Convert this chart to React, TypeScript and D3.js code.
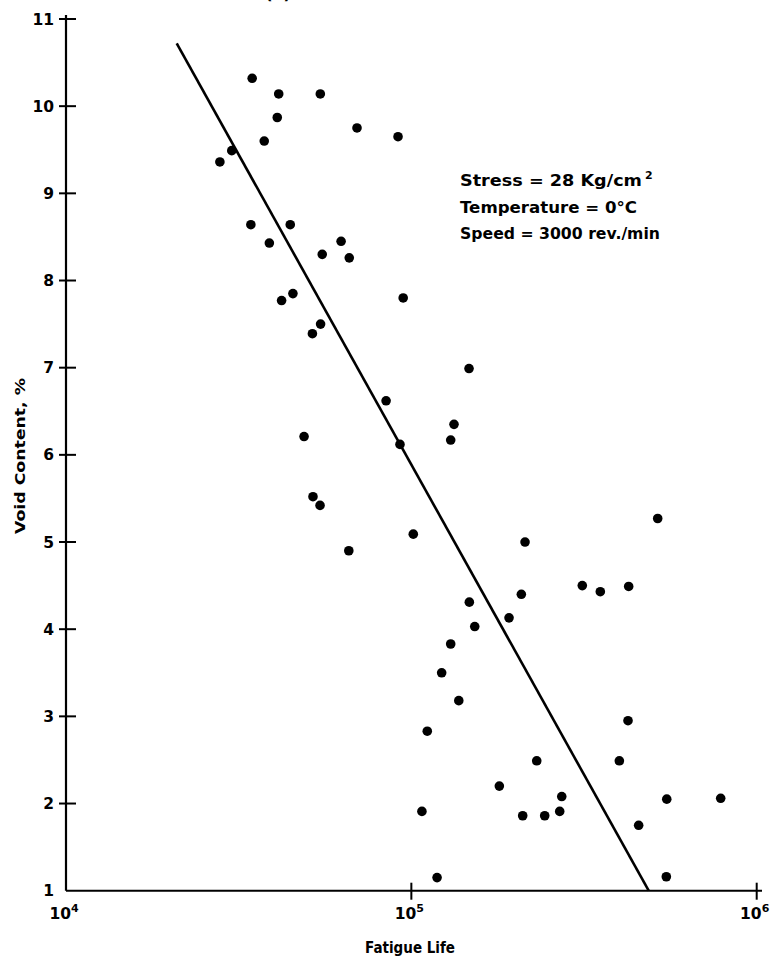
import React from "react";
import * as d3 from "d3";

// Fatigue life (cycles) and void content (%) for each specimen
const fatigueLife = [
  34600, 41300, 54500, 40900, 69600, 91500, 37500, 30200, 27900, 34300,
  44600, 38800, 62600, 55200, 66100, 42100, 45400, 94700, 54600, 51700,
  146900, 84500, 132900, 130000, 92700, 48900, 51900, 54400, 65900, 101300,
  213400, 516800, 312600, 352500, 425900, 208200, 147200, 191800, 152600, 130000,
  122400, 137200, 424000, 111200, 230700, 400200, 179800, 272600, 549000, 786600,
  107300, 210100, 243300, 268900, 455200, 118700, 547400,
];
const voidContent = [
  10.32, 10.14, 10.14, 9.87, 9.75, 9.65, 9.6, 9.49, 9.36, 8.64,
  8.64, 8.43, 8.45, 8.3, 8.26, 7.77, 7.85, 7.8, 7.5, 7.39,
  6.99, 6.62, 6.35, 6.17, 6.12, 6.21, 5.52, 5.42, 4.9, 5.09,
  5.0, 5.27, 4.5, 4.43, 4.49, 4.4, 4.31, 4.13, 4.03, 3.83,
  3.5, 3.18, 2.95, 2.83, 2.49, 2.49, 2.2, 2.08, 2.05, 2.06,
  1.91, 1.86, 1.86, 1.91, 1.75, 1.15, 1.16,
];

// Fitted regression line end points
const fitLife = [20920, 486700];
const fitVoid = [10.72, 1.0];

const yTicks = [1, 2, 3, 4, 5, 6, 7, 8, 9, 10, 11];
const xTickBases = ["10", "10", "10"];
const xTickExps = ["4", "5", "6"];
const xTickValues = [1e4, 1e5, 1e6];

const notes = ["Stress = 28  Kg/cm", "Temperature = 0°C", "Speed = 3000 rev./min"];

const FONT = "'DejaVu Sans', sans-serif";

export default function App() {
  const x = d3.scaleLog().domain([1e4, 1e6]).range([66, 756.7]);
  const y = d3.scaleLinear().domain([1, 11]).range([890.7, 19]);

  const fitPath = d3
    .line<number>()
    .x((_, i) => x(fitLife[i]))
    .y((_, i) => y(fitVoid[i]))(fitLife) as string;

  const x0 = x(1e4);
  const y0 = y(1);

  return (
    <svg
      width={773}
      height={967}
      style={{ position: "absolute", left: 0, top: 0, background: "#fff" }}
      fontFamily={FONT}
    >
      {/* panel caption, mostly above the frame */}
      <text x={278} y={-1} fontSize={16} fontWeight="bold" textAnchor="middle">
        (a)
      </text>

      {/* axes */}
      <line x1={x0} x2={x0} y1={15} y2={y0} stroke="#000" strokeWidth={2.2} />
      <line x1={x0} x2={762} y1={y0} y2={y0} stroke="#000" strokeWidth={2} />

      {yTicks.map((t) => (
        <g key={"y" + t}>
          {t > 1 && (
            <line x1={x0 - 7} x2={x0 + 10} y1={y(t)} y2={y(t)} stroke="#000" strokeWidth={2} />
          )}
          <text
            x={54}
            y={y(t)}
            dy="0.36em"
            fontSize={15.5}
            fontWeight="bold"
            textAnchor="end"
          >
            {t}
          </text>
        </g>
      ))}

      {xTickValues.map((v, i) => (
        <g key={"x" + i}>
          {i > 0 && (
            <line x1={x(v)} x2={x(v)} y1={y0 - 8} y2={y0 + 9} stroke="#000" strokeWidth={2} />
          )}
          <text x={x(v) - 2} y={919} fontSize={15.5} fontWeight="bold" textAnchor="middle">
            {xTickBases[i]}
            <tspan dy={-7} fontSize={11}>
              {xTickExps[i]}
            </tspan>
          </text>
        </g>
      ))}

      {/* axis titles */}
      <text
        x={410}
        y={953}
        fontSize={15}
        fontWeight="bold"
        textAnchor="middle"
        textLength={90}
        lengthAdjust="spacingAndGlyphs"
      >
        Fatigue Life
      </text>
      <text
        transform="translate(25,456) rotate(-90)"
        fontSize={14}
        fontWeight="bold"
        textAnchor="middle"
        textLength={156}
        lengthAdjust="spacingAndGlyphs"
      >
        Void  Content, %
      </text>

      {/* test conditions */}
      <text x={460} y={186}>
        <tspan fontSize={16} fontWeight="bold" textLength={182} lengthAdjust="spacingAndGlyphs">
          {notes[0]}
        </tspan>
        <tspan dx={3} dy={-7} fontSize={11} fontWeight="bold">
          2
        </tspan>
      </text>
      <text x={460} y={213} fontSize={16} fontWeight="bold" textLength={177} lengthAdjust="spacingAndGlyphs">
        {notes[1]}
      </text>
      <text x={460} y={239} fontSize={16} fontWeight="bold" textLength={200} lengthAdjust="spacingAndGlyphs">
        {notes[2]}
      </text>

      {/* regression line */}
      <path d={fitPath} fill="none" stroke="#000" strokeWidth={2.6} />

      {/* specimens */}
      {fatigueLife.map((v, i) => (
        <circle key={i} cx={x(v)} cy={y(voidContent[i])} r={4.8} fill="#000" />
      ))}
    </svg>
  );
}
